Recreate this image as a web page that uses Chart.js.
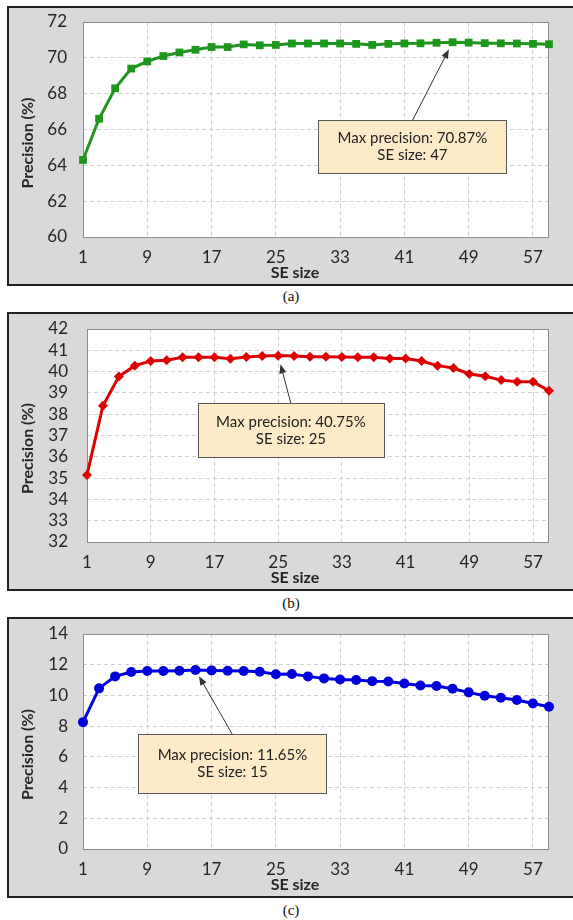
<!DOCTYPE html>
<html>
<head>
<meta charset="utf-8">
<script src="https://cdn.jsdelivr.net/npm/chart.js@4.4.1/dist/chart.umd.min.js"></script>
<style>
  body { margin: 0; background: #fff; width: 573px; height: 920px; position: relative; overflow: hidden; }
  .panel { position: absolute; left: 7px; width: 600px; background: #d9d9d9; border: 2px solid #222; box-sizing: border-box; }
  canvas { position: absolute; left: 0; }
  .cap { position: absolute; left: 271px; width: 40px; text-align: center; font: 15px "Liberation Serif", serif; line-height: 18px; color: #111; }
</style>
</head>
<body>
<div class="panel" style="top:6px;height:280px"></div>
<div class="panel" style="top:312px;height:279px"></div>
<div class="panel" style="top:617px;height:281px"></div>
<canvas id="chartA" width="573" height="278" style="top:7px"></canvas>
<canvas id="chartB" width="573" height="277" style="top:313px"></canvas>
<canvas id="chartC" width="573" height="279" style="top:618px"></canvas>
<div class="cap" style="top:287px">(a)</div>
<div class="cap" style="top:594px">(b)</div>
<div class="cap" style="top:901px">(c)</div>

<script>
// SE sizes (x) and tick labels shared by the three panels
const seSizes = [1, 3, 5, 7, 9, 11, 13, 15, 17, 19, 21, 23, 25, 27, 29,
                 31, 33, 35, 37, 39, 41, 43, 45, 47, 49, 51, 53, 55, 57, 59];
const xTicks = [1, 9, 17, 25, 33, 41, 49, 57];

// precision (%)
const precisionA = [64.3, 66.6, 68.3, 69.4, 69.8, 70.1, 70.3, 70.45, 70.6, 70.6,
                    70.75, 70.7, 70.72, 70.8, 70.8, 70.8, 70.8, 70.78, 70.72, 70.78,
                    70.8, 70.81, 70.84, 70.87, 70.85, 70.82, 70.81, 70.8, 70.78, 70.76];
const precisionB = [35.15, 38.4, 39.77, 40.28, 40.5, 40.53, 40.67, 40.67, 40.67, 40.6,
                    40.69, 40.73, 40.75, 40.73, 40.7, 40.7, 40.69, 40.67, 40.67, 40.61,
                    40.61, 40.5, 40.28, 40.17, 39.89, 39.78, 39.6, 39.52, 39.52, 39.1];
const precisionC = [8.26, 10.46, 11.24, 11.52, 11.59, 11.59, 11.61, 11.65, 11.63, 11.61,
                    11.59, 11.54, 11.38, 11.4, 11.24, 11.11, 11.04, 11.0, 10.93, 10.91,
                    10.78, 10.65, 10.61, 10.43, 10.2, 9.98, 9.85, 9.7, 9.48, 9.26];

const FONT = 'Lato';
const TEXT = '#262626';

// white plot area
const plotBg = {
    id: 'plotBg',
    beforeDraw(chart) {
        const { ctx, chartArea: a } = chart;
        ctx.save();
        ctx.fillStyle = '#fff';
        ctx.fillRect(a.left, a.top, a.right - a.left, a.bottom - a.top);
        ctx.restore();
    }
};

// grey frame round the plot area
const plotFrame = {
    id: 'plotFrame',
    beforeDatasetsDraw(chart) {
        const { ctx, chartArea: a } = chart;
        ctx.save();
        ctx.strokeStyle = '#8c8c8c';
        ctx.lineWidth = 1;
        ctx.strokeRect(a.left + 0.5, a.top + 0.5, a.right - a.left - 1, a.bottom - a.top);
        ctx.restore();
    }
};

// axis titles, centred on the panel like Excel does
const axisTitles = {
    id: 'axisTitles',
    afterDraw(chart) {
        const { ctx, height } = chart;
        ctx.save();
        ctx.fillStyle = TEXT;
        ctx.font = `bold 16px ${FONT}`;
        ctx.textAlign = 'center';
        ctx.textBaseline = 'middle';
        ctx.fillText('SE size', 295, height - 12);
        ctx.translate(28, height / 2 - 3);
        ctx.rotate(-Math.PI / 2);
        ctx.fillText('Precision (%)', 0, 0);
        ctx.restore();
    }
};

// "Max precision" call-out with an arrow to the best point
const callout = {
    id: 'callout',
    afterDraw(chart, args, o) {
        const { ctx, scales: { x, y } } = chart;
        const pts = chart.data.datasets[0].data;
        let best = pts[0];
        pts.forEach(p => { if (p.y > best.y) best = p; });

        const cx = x.getPixelForValue(o.boxX);
        const cy = y.getPixelForValue(o.boxY);
        const left = Math.round(cx - o.w / 2) + 0.5;
        const top = Math.round(cy - o.h / 2) + 0.5;

        const px = x.getPixelForValue(best.x), py = y.getPixelForValue(best.y);
        const sx = cx, sy = top;
        const ang = Math.atan2(py - sy, px - sx);
        const len = Math.hypot(px - sx, py - sy) - o.gap;
        const tx = sx + Math.cos(ang) * len, ty = sy + Math.sin(ang) * len;

        ctx.save();
        ctx.strokeStyle = '#333';
        ctx.fillStyle = '#333';
        ctx.lineWidth = 1;
        ctx.beginPath();
        ctx.moveTo(sx, sy);
        ctx.lineTo(tx - Math.cos(ang) * 6, ty - Math.sin(ang) * 6);
        ctx.stroke();
        ctx.beginPath();
        ctx.moveTo(tx, ty);
        ctx.lineTo(tx - Math.cos(ang) * 9 + Math.sin(ang) * 3.5, ty - Math.sin(ang) * 9 - Math.cos(ang) * 3.5);
        ctx.lineTo(tx - Math.cos(ang) * 9 - Math.sin(ang) * 3.5, ty - Math.sin(ang) * 9 + Math.cos(ang) * 3.5);
        ctx.closePath();
        ctx.fill();

        ctx.fillStyle = '#fdebc8';
        ctx.strokeStyle = '#595959';
        ctx.fillRect(left, top, o.w, o.h);
        ctx.strokeRect(left, top, o.w, o.h);

        ctx.fillStyle = '#222';
        ctx.font = `15px ${FONT}`;
        ctx.textAlign = 'center';
        ctx.textBaseline = 'middle';
        ctx.fillText(`Max precision: ${best.y.toFixed(2)}%`, cx, cy - 8);
        ctx.fillText(`SE size: ${best.x}`, cx, cy + 9);
        ctx.restore();
    }
};

function noPad(s) {
    s.paddingTop = 0; s.paddingBottom = 0; s.paddingLeft = 0; s.paddingRight = 0;
}

function makePanel(id, values, p) {
    new Chart(document.getElementById(id), {
        type: 'line',
        data: {
            datasets: [{
                data: seSizes.map((s, i) => ({ x: s, y: values[i] })),
                borderColor: p.color,
                backgroundColor: p.color,
                borderWidth: 3,
                pointStyle: p.pointStyle,
                pointRadius: p.radius,
                pointBorderWidth: 0,
                tension: 0,
                clip: false
            }]
        },
        options: {
            responsive: false,
            animation: false,
            events: [],
            layout: { autoPadding: false, padding: { top: p.top, right: 24, left: 0, bottom: 0 } },
            plugins: {
                legend: { display: false },
                tooltip: { enabled: false },
                callout: p.callout
            },
            scales: {
                x: {
                    type: 'linear',
                    min: 1,
                    max: 59,
                    afterBuildTicks(s) { s.ticks = xTicks.map(v => ({ value: v })); },
                    afterFit(s) { s.height = 48; noPad(s); },
                    grid: { color: '#d0d0d0', drawTicks: false },
                    border: { display: false, dash: [4, 3] },
                    ticks: { padding: 10, color: TEXT, font: { family: FONT, size: 17 }, maxRotation: 0, autoSkip: false }
                },
                y: {
                    min: p.yMin,
                    max: p.yMax,
                    afterFit(s) { s.width = p.left; noPad(s); },
                    grid: { color: '#d0d0d0', drawTicks: false },
                    border: { display: false, dash: [4, 3] },
                    ticks: { stepSize: p.yStep, padding: p.yPad, color: TEXT, font: { family: FONT, size: 17 }, autoSkip: false }
                }
            }
        },
        plugins: [plotBg, plotFrame, axisTitles, callout]
    });
}

makePanel('chartA', precisionA, {
    color: '#1e961e', pointStyle: 'rect', radius: 5.5,
    yMin: 60, yMax: 72, yStep: 2, left: 83, top: 15, yPad: 16,
    callout: { boxX: 42, boxY: 65.05, w: 188, h: 53, gap: 8 }
});
makePanel('chartB', precisionB, {
    color: '#dd0000', pointStyle: 'rectRot', radius: 5,
    yMin: 32, yMax: 42, yStep: 1, left: 87, top: 16, yPad: 19,
    callout: { boxX: 26.6, boxY: 37.26, w: 186, h: 54, gap: 9 }
});
makePanel('chartC', precisionC, {
    color: '#0000dd', pointStyle: 'circle', radius: 5,
    yMin: 0, yMax: 14, yStep: 2, left: 83, top: 16, yPad: 15,
    callout: { boxX: 19.6, boxY: 5.57, w: 188, h: 59, gap: 7 }
});
</script>
</body>
</html>
